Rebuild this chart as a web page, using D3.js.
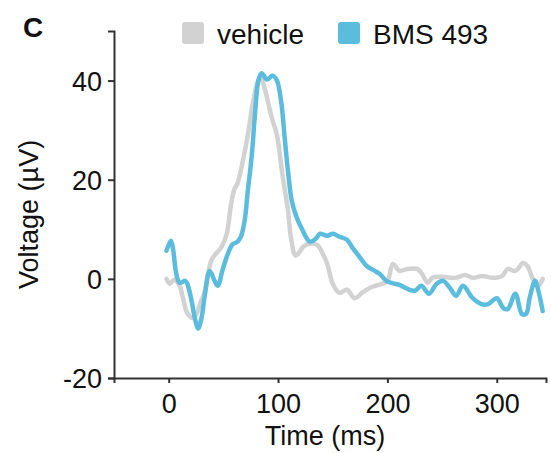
<!DOCTYPE html>
<html>
<head>
<meta charset="utf-8">
<script src="https://cdn.jsdelivr.net/npm/d3@7"></script>
<style>
  body { margin: 0; background: #fff; }
  svg text { font-family: "Liberation Sans", Arial, sans-serif; fill: #111; }
</style>
</head>
<body>
<script>
const width = 551;
const height = 453;
const marginLeft = 114;
const marginRight = 5;
const marginTop = 31;
const marginBottom = 75;

// time (ms) and voltage (µV)
const vehicleTime = [-2, 1, 5, 10, 13, 17, 22, 26, 28, 33, 36, 39, 44, 48, 53, 57, 60, 63, 68, 72, 77, 81, 84, 87, 90, 94, 99, 104, 109, 112, 116, 120, 123, 129, 136, 141, 145, 150, 156, 163, 170, 177, 186, 195, 200, 205, 211, 218, 227, 231, 237, 241, 251, 262, 271, 278, 287, 296, 305, 310, 317, 324, 328, 333, 338, 342];
const vehicleVolt = [0, -1, -0.2, -1.4, -3.8, -6.9, -7.9, -6.9, -5.5, -2.4, 1, 3.7, 5.3, 6.3, 9, 15, 18, 19.3, 24, 28.6, 35.5, 39.5, 40.8, 39, 36.5, 32.7, 29, 21, 14, 8, 4.7, 5.5, 6.5, 7.1, 6.8, 5, 3, -1, -2.8, -2.2, -3.9, -2.8, -1.6, -1, -0.5, 3, 1.6, 2, 2, 1.2, -0.8, 0.2, 0.4, 0.2, 0.8, 0.2, 0.6, 0.2, 0.6, 2, 1.6, 3.2, 2.6, 0, -1.4, 0];

const bmsTime = [-2, 2, 4, 7, 10, 15, 17, 21, 24, 27, 30, 33, 37.5, 42, 45, 49, 54, 58.5, 63, 66, 69.5, 72, 76, 79, 82, 85, 90, 95, 99, 103, 106, 109, 112.5, 117, 122, 129, 135, 138, 145, 150, 156, 163, 168, 175, 181, 187, 193, 199, 205, 211, 218, 225, 231, 238, 245, 251, 257, 263, 269, 278, 286, 292, 300, 306, 310, 317, 323, 327, 330, 335, 338, 342];
const bmsVolt = [5.7, 7.7, 6, 1, -0.8, -0.4, -1, -4.5, -8, -10, -7.9, -3.4, 1.6, -0.4, -1.4, 1.6, 5, 7, 7.5, 8.5, 11.8, 17, 25, 33.5, 40, 41.5, 40.2, 41, 40, 35.5, 28.6, 21.9, 15.8, 12.4, 10, 7.5, 8.2, 9.1, 8.7, 9.1, 8.5, 7.9, 6.3, 4.3, 2.6, 1.8, 1, -0.4, -0.9, -1.2, -2, -2.4, -1.4, -3, -1, -0.4, -1.8, -3.4, -1.4, -3.9, -5.1, -5.1, -3.9, -5.9, -6.1, -3, -7.1, -7, -3.9, -0.4, -2.4, -6.5];

const xTicks = [0, 100, 200, 300];
const yTicks = [-20, 0, 20, 40];
const seriesNames = ["vehicle", "BMS 493"];
const seriesColors = ["#d2d2d2", "#5bbcdd"];

const svg = d3
  .select("body")
  .append("svg")
  .attr("width", width)
  .attr("height", height);

const xScale = d3.scaleLinear()
  .domain([-50, 345])
  .range([marginLeft, width - marginRight]);

const yScale = d3.scaleLinear()
  .domain([-20, 50])
  .range([height - marginBottom, marginTop]);

const line = d3.line()
  .x(function(d) { return xScale(d[0]); })
  .y(function(d) { return yScale(d[1]); })
  .curve(d3.curveCatmullRom.alpha(0.5));

const vehicle = d3.zip(vehicleTime, vehicleVolt);
const bms = d3.zip(bmsTime, bmsVolt);

[vehicle, bms].forEach(function(data, i) {
  svg.append("path")
    .datum(data)
    .attr("fill", "none")
    .attr("stroke", seriesColors[i])
    .attr("stroke-width", 4.5)
    .attr("stroke-linejoin", "round")
    .attr("stroke-linecap", "round")
    .attr("d", line);
});

// axes
const xAxis = d3.axisBottom(xScale)
  .tickValues(xTicks)
  .tickFormat(function(d) { return String(d); })
  .tickSizeOuter(0)
  .tickSize(5)
  .tickPadding(11);

const gx = svg.append("g")
  .attr("transform", `translate(0, ${height - marginBottom})`)
  .call(xAxis);

const yAxis = d3.axisLeft(yScale)
  .tickValues(yTicks)
  .tickFormat(function(d) { return String(d); })
  .tickSizeOuter(0)
  .tickSize(6)
  .tickPadding(6);

const gy = svg.append("g")
  .attr("transform", `translate(${marginLeft}, 0)`)
  .call(yAxis);

[gx, gy].forEach(function(g) {
  g.select(".domain").attr("stroke", "#333").attr("stroke-width", 2);
  g.selectAll(".tick line").attr("stroke", "#333").attr("stroke-width", 2);
  g.selectAll(".tick text")
    .attr("font-size", 27)
    .attr("fill", "#111");
});
gy.selectAll(".tick text").attr("dy", "0.36em");

// axis titles
svg.append("text")
  .attr("x", xScale(143))
  .attr("y", 445)
  .attr("text-anchor", "middle")
  .attr("font-size", 27)
  .text("Time (ms)");

svg.append("text")
  .attr("transform", `translate(38, ${yScale(13)}) rotate(-90)`)
  .attr("text-anchor", "middle")
  .attr("font-size", 27)
  .text("Voltage (µV)");

// panel letter
svg.append("text")
  .attr("x", 23)
  .attr("y", 37)
  .attr("font-size", 28)
  .attr("font-weight", "bold")
  .text("C");

// legend
const legendX = [182, 338];
const legend = svg.append("g")
  .selectAll("g")
  .data(seriesNames)
  .enter()
  .append("g")
  .attr("transform", function(d, i) { return `translate(${legendX[i]}, 22)`; });

legend.append("rect")
  .attr("width", 22)
  .attr("height", 22)
  .attr("rx", 3)
  .attr("fill", function(d, i) { return seriesColors[i]; });

legend.append("text")
  .attr("x", 35)
  .attr("y", 22)
  .attr("font-size", 28)
  .text(function(d) { return d; });
</script>
</body>
</html>
